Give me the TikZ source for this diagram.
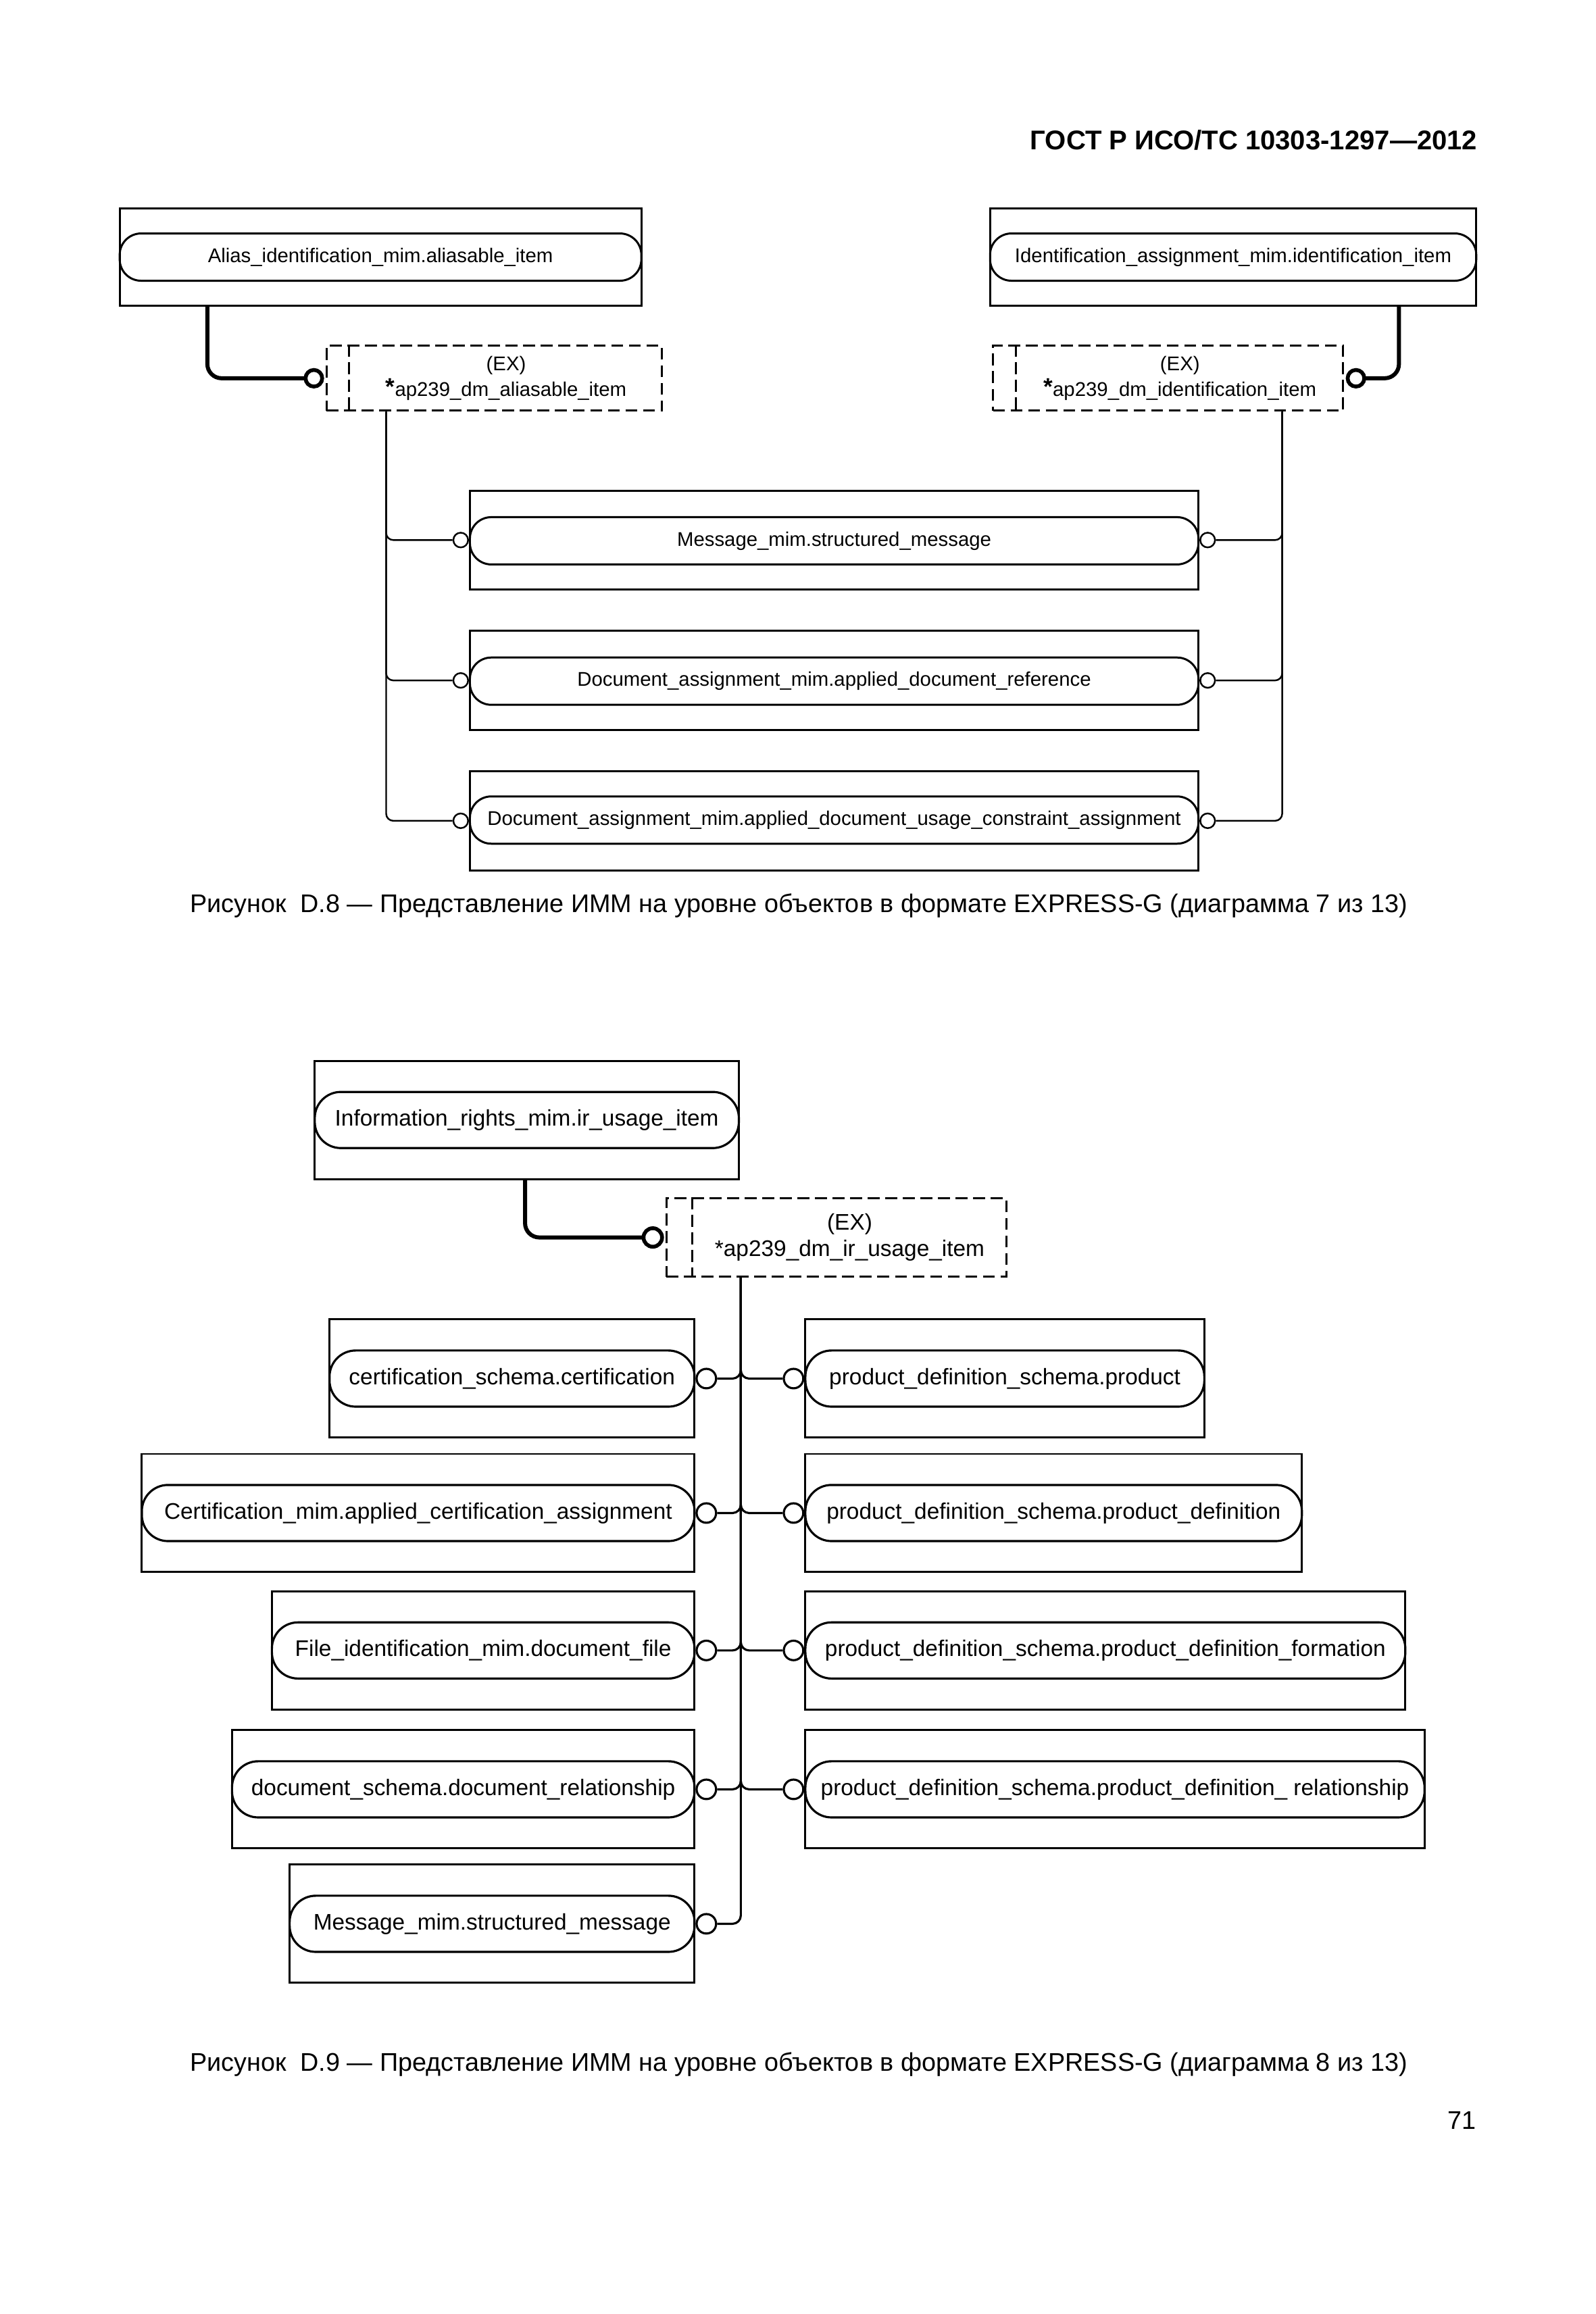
\documentclass[tikz,border=0pt]{standalone}
\usepackage{fontspec}
\setmainfont{Liberation Sans}
\usetikzlibrary{fit}
\begin{document}
\begin{tikzpicture}[x=0.02187cm,y=-0.02187cm,
  ent/.style={draw, line width=0.85pt, inner sep=0pt},
  pillA/.style={draw, line width=0.85pt, rounded corners=9pt, inner sep=0pt},
  pillB/.style={draw, line width=0.9pt, rounded corners=11pt, inner sep=0pt},
  exbox/.style={draw, dash pattern=on 5pt off 2.4pt, line width=0.85pt, inner sep=0pt},
  txtA/.style={inner sep=0pt, font=\fontsize{8.35}{10.6}\selectfont, align=center},
  txtB/.style={inner sep=0pt, font=\fontsize{9.5}{11.2}\selectfont, align=center},
  circA/.style={circle, draw, line width=0.7pt, minimum size=6.2pt, inner sep=0pt, fill=white},
  circB/.style={circle, draw, line width=0.9pt, minimum size=8.2pt, inner sep=0pt, fill=white},
  tcirc/.style={circle, draw, line width=1.6pt, minimum size=7pt, inner sep=0pt, fill=white},
  thinA/.style={line width=0.7pt, rounded corners=3pt},
  thinB/.style={line width=0.9pt, rounded corners=3.5pt},
  thickline/.style={line width=1.7pt, rounded corners=6pt},
  capt/.style={inner sep=0pt, font=\fontsize{10.75}{13}\selectfont}]
\useasboundingbox (0,0) rectangle (1080,1566.1);

% header
\node[anchor=east, inner sep=0pt, font=\bfseries\fontsize{11.4}{13}\selectfont] (hdr) at (1000,95) {ГОСТ Р ИСО/ТС 10303-1297—2012};

% ---------------- Figure D.8 ----------------
\node[ent, fit={(81,141) (434,207)}] (A) {};
\node[pillA, fit={(81,158) (434,190)}] (Ap) {};
\node[txtA] (At) at (Ap.center) {Alias\_identification\_mim.aliasable\_item};

\node[ent, fit={(670,141) (999,207)}] (B) {};
\node[pillA, fit={(670,158) (999,190)}] (Bp) {};
\node[txtA] (Bt) at (Bp.center) {Identification\_assignment\_mim.identification\_item};

\node[exbox, fit={(221,234) (448,278)}] (DL) {};
\draw[dash pattern=on 5pt off 2.4pt, line width=0.85pt] ([shift={(16,0)}]DL.north west) -- ([shift={(16,0)}]DL.south west);
\node[txtA] (DLt) at ([shift={(8,0)}]DL.center) {(EX)\\\raisebox{0.5pt}{\bfseries\fontsize{10}{10}\selectfont *}ap239\_dm\_aliasable\_item};

\node[exbox, fit={(672,234) (909,278)}] (DR) {};
\draw[dash pattern=on 5pt off 2.4pt, line width=0.85pt] ([shift={(16,0)}]DR.north west) -- ([shift={(16,0)}]DR.south west);
\node[txtA] (DRt) at ([shift={(8,0)}]DR.center) {(EX)\\\raisebox{0.5pt}{\bfseries\fontsize{10}{10}\selectfont *}ap239\_dm\_identification\_item};

\node[ent, fit={(318,332) (811,399)}] (M1) {};
\node[pillA, fit={(318,350) (811,382)}] (M1p) {};
\node[txtA] (M1t) at (M1p.center) {Message\_mim.structured\_message};

\node[ent, fit={(318,427) (811,494)}] (M2) {};
\node[pillA, fit={(318,445) (811,477)}] (M2p) {};
\node[txtA] (M2t) at (M2p.center) {Document\_assignment\_mim.applied\_document\_reference};

\node[ent, fit={(318,522) (811,589)}] (M3) {};
\node[pillA, fit={(318,539) (811,571)}] (M3p) {};
\node[txtA] (M3t) at (M3p.center) {Document\_assignment\_mim.applied\_document\_usage\_constraint\_assignment};

% connectors D.8
\draw[thickline] ([shift={(60,0)}]A.south west) |- ([shift={(-8,0)}]DL.west);
\draw[thickline] ([shift={(-53,0)}]B.south east) |- ([shift={(8,0)}]DR.east);
\node[tcirc, anchor=east] (cL) at ([shift={(-1,0)}]DL.west) {};
\node[tcirc, anchor=west] (cR) at ([shift={(1,0)}]DR.east) {};

\node[circA, anchor=east] (m1l) at (M1.west) {};
\node[circA, anchor=east] (m2l) at (M2.west) {};
\node[circA, anchor=east] (m3l) at (M3.west) {};
\node[circA, anchor=west] (m1r) at (M1.east) {};
\node[circA, anchor=west] (m2r) at (M2.east) {};
\node[circA, anchor=west] (m3r) at (M3.east) {};

\draw[thinA] ([shift={(41,0)}]DL.south west) |- (m1l);
\draw[thinA] ([shift={(41,0)}]DL.south west) |- (m2l);
\draw[thinA] ([shift={(41,0)}]DL.south west) |- (m3l);
\draw[thinA] ([shift={(-42,0)}]DR.south east) |- (m1r);
\draw[thinA] ([shift={(-42,0)}]DR.south east) |- (m2r);
\draw[thinA] ([shift={(-42,0)}]DR.south east) |- (m3r);

\node[capt] (cap8) at (540.5,613) {Рисунок\ \ D.8 — Представление ИММ на уровне объектов в формате EXPRESS-G (диаграмма 7 из 13)};

% ---------------- Figure D.9 ----------------
\node[ent, fit={(213,718) (500,798)}] (IR) {};
\node[pillB, fit={(213,739) (500,777)}] (IRp) {};
\node[txtB] (IRt) at (IRp.center) {Information\_rights\_mim.ir\_usage\_item};

\node[exbox, fit={(451,811) (681,864)}] (DB) {};
\draw[dash pattern=on 5pt off 2.4pt, line width=0.85pt] ([shift={(18,0)}]DB.north west) -- ([shift={(18,0)}]DB.south west);
\node[txtB] (DBt) at ([shift={(9,0)}]DB.center) {(EX)\\*ap239\_dm\_ir\_usage\_item};

\draw[thickline] ([shift={(143,0)}]IR.south west) |- ([shift={(-8,0)}]DB.west);
\node[tcirc, anchor=east, minimum size=7.8pt] (cB) at ([shift={(-1,0)}]DB.west) {};

% left column
\node[ent, fit={(223,893) (470,973)}] (L1) {};
\node[pillB, fit={(223,914) (470,952)}] (L1p) {};
\node[txtB] (L1t) at (L1p.center) {certification\_schema.certification};

\node[ent, fit={(96,984) (470,1064)}] (L2) {};
\node[pillB, fit={(96,1005) (470,1043)}] (L2p) {};
\node[txtB] (L2t) at (L2p.center) {Certification\_mim.applied\_certification\_assignment};

\node[ent, fit={(184,1077) (470,1157)}] (L3) {};
\node[pillB, fit={(184,1098) (470,1136)}] (L3p) {};
\node[txtB] (L3t) at (L3p.center) {File\_identification\_mim.document\_file};

\node[ent, fit={(157,1171) (470,1251)}] (L4) {};
\node[pillB, fit={(157,1192) (470,1230)}] (L4p) {};
\node[txtB] (L4t) at (L4p.center) {document\_schema.document\_relationship};

\node[ent, fit={(196,1262) (470,1342)}] (L5) {};
\node[pillB, fit={(196,1283) (470,1321)}] (L5p) {};
\node[txtB] (L5t) at (L5p.center) {Message\_mim.structured\_message};

% right column
\node[ent, fit={(545,893) (815,973)}] (R1) {};
\node[pillB, fit={(545,914) (815,952)}] (R1p) {};
\node[txtB] (R1t) at (R1p.center) {product\_definition\_schema.product};

\node[ent, fit={(545,984) (881,1064)}] (R2) {};
\node[pillB, fit={(545,1005) (881,1043)}] (R2p) {};
\node[txtB] (R2t) at (R2p.center) {product\_definition\_schema.product\_definition};

\node[ent, fit={(545,1077) (951,1157)}] (R3) {};
\node[pillB, fit={(545,1098) (951,1136)}] (R3p) {};
\node[txtB] (R3t) at (R3p.center) {product\_definition\_schema.product\_definition\_formation};

\node[ent, fit={(545,1171) (964,1251)}] (R4) {};
\node[pillB, fit={(545,1192) (964,1230)}] (R4p) {};
\node[txtB] (R4t) at (R4p.center) {product\_definition\_schema.product\_definition\_ relationship};

% circles D.9
\node[circB, anchor=west] (l1c) at (L1.east) {};
\node[circB, anchor=west] (l2c) at (L2.east) {};
\node[circB, anchor=west] (l3c) at (L3.east) {};
\node[circB, anchor=west] (l4c) at (L4.east) {};
\node[circB, anchor=west] (l5c) at (L5.east) {};
\node[circB, anchor=east] (r1c) at (R1.west) {};
\node[circB, anchor=east] (r2c) at (R2.west) {};
\node[circB, anchor=east] (r3c) at (R3.west) {};
\node[circB, anchor=east] (r4c) at (R4.west) {};

\draw[thinB] ([shift={(51,0)}]DB.south west) |- (l1c);
\draw[thinB] ([shift={(51,0)}]DB.south west) |- (l2c);
\draw[thinB] ([shift={(51,0)}]DB.south west) |- (l3c);
\draw[thinB] ([shift={(51,0)}]DB.south west) |- (l4c);
\draw[thinB] ([shift={(51,0)}]DB.south west) |- (l5c);
\draw[thinB] ([shift={(51,0)}]DB.south west) |- (r1c);
\draw[thinB] ([shift={(51,0)}]DB.south west) |- (r2c);
\draw[thinB] ([shift={(51,0)}]DB.south west) |- (r3c);
\draw[thinB] ([shift={(51,0)}]DB.south west) |- (r4c);

\node[capt] (cap9) at (540.5,1397) {Рисунок\ \ D.9 — Представление ИММ на уровне объектов в формате EXPRESS-G (диаграмма 8 из 13)};

\node[capt, anchor=east] (pg) at (999,1435) {71};
\end{tikzpicture}
\end{document}
